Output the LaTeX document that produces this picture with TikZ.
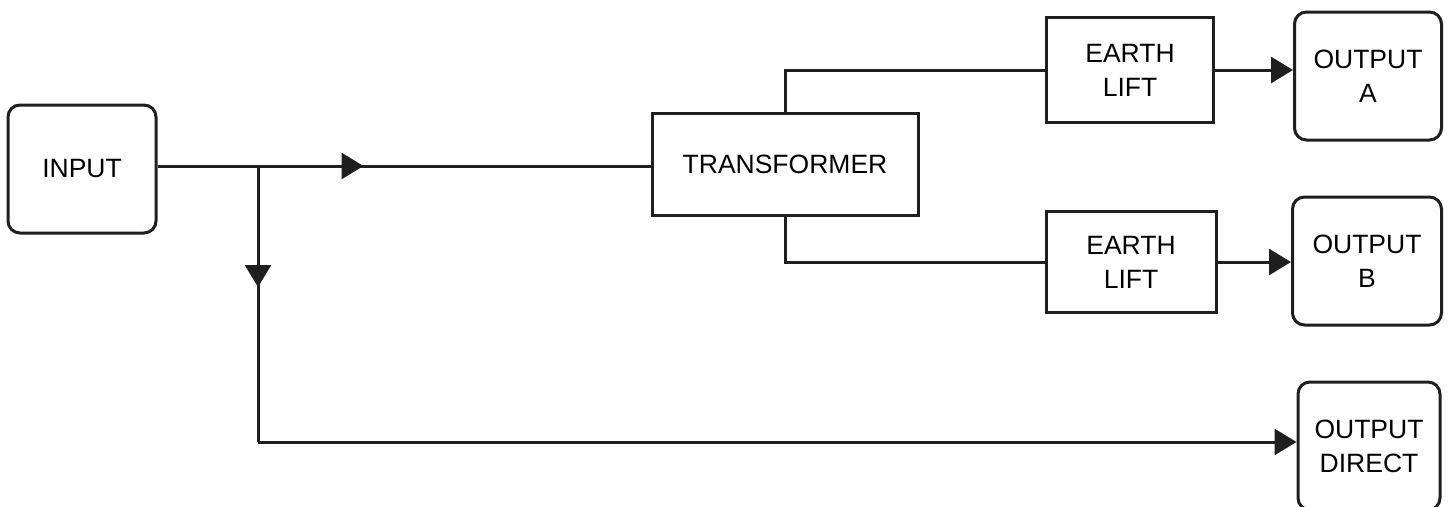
\documentclass[tikz,border=0pt]{standalone}
\usepackage{fontspec}
\setmainfont{Liberation Sans}
\usetikzlibrary{arrows.meta,decorations.markings,calc}
\tikzset{
  box/.style={draw=black!88, line width=3pt, fill=white, inner sep=0pt, align=center,
    font=\fontsize{26.5}{34}\selectfont},
  rbox/.style={box, rounded corners=12pt},
  conn/.style={draw=black!88, line width=3pt},
  tip/.style={-{Triangle[length=22pt,width=26pt]}},
}
\begin{document}
\begin{tikzpicture}[x=1pt,y=-1pt]
\useasboundingbox (0,0) rectangle (1451,506);
\begin{scope}
\clip (0,0) rectangle (1451,506);
\node[rbox, minimum width=148pt, minimum height=128pt] (in) at (82,169) {INPUT};
\node[box, minimum width=266pt, minimum height=102pt] (tr) at (785,164) {TRANSFORMER};
\node[box, minimum width=167pt, minimum height=105pt] (ela) at (1130,70) {EARTH\\LIFT};
\node[box, minimum width=170pt, minimum height=101pt] (elb) at (1131,262) {EARTH\\LIFT};
\node[rbox, minimum width=147pt, minimum height=128pt] (oa) at (1368,76) {OUTPUT\\A};
\node[rbox, minimum width=149pt, minimum height=128pt] (ob) at (1367,261) {OUTPUT\\B};
\node[rbox, minimum width=142pt, minimum height=128pt] (od) at (1369,446) {OUTPUT\\DIRECT};
\coordinate (j) at (258,166);
\coordinate (jd) at (258,442);
\end{scope}
% connectors
\draw[conn, postaction={decorate}, decoration={markings,
  mark=at position 206pt with {\arrow{Triangle[length=22pt,width=26pt]}}}]
  (in.east |- j) -- (tr.west |- j);
\draw[conn, postaction={decorate}, decoration={markings,
  mark=at position 121pt with {\arrow{Triangle[length=22pt,width=26pt]}}}]
  (j) -- (jd);
\draw[conn, tip] (jd) -- (od.west |- jd);
\draw[conn] (tr.north) |- (ela.west);
\draw[conn] (tr.south) |- (elb.west);
\draw[conn, tip] (ela.east) -- (oa.west |- ela.east);
\draw[conn, tip] (elb.east) -- (ob.west |- elb.east);
\end{tikzpicture}
\end{document}
